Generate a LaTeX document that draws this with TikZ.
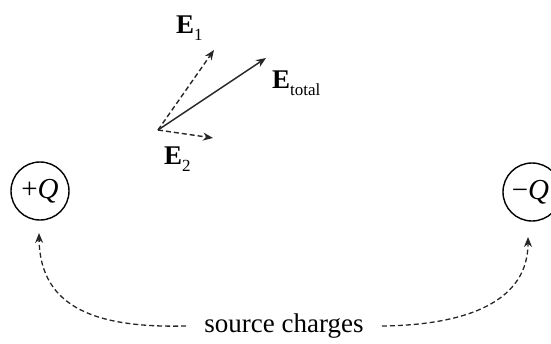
\documentclass[tikz,border=0pt]{standalone}
\usepackage{fontspec}
\setmainfont{Liberation Serif}
\usetikzlibrary{arrows.meta}
\newcommand{\vsub}[1]{\raisebox{-7pt}{\fontsize{17}{17}\selectfont #1}}
\tikzset{
  vec/.style={line width=1.4pt,-{Stealth[length=10pt,width=8pt]},black!85},
  dvec/.style={vec,dash pattern=on 5pt off 3pt},
  curv/.style={line width=1.3pt,black!85,dash pattern=on 5pt off 3pt,-{Stealth[length=10pt,width=8pt]}},
  lab/.style={font=\fontsize{27}{27}\selectfont,inner sep=0pt,anchor=base west},
  charge/.style={circle,draw,line width=1.4pt,minimum size=58pt,inner sep=0pt,font=\fontsize{29}{29}\selectfont}
}
\begin{document}
\begin{tikzpicture}[x=1pt,y=-1pt]
\useasboundingbox (0,0) rectangle (551,343);
\coordinate (O) at (158,130);
\coordinate (t1) at (214,50);
\coordinate (tt) at (266,58);
\coordinate (t2) at (213,138);
\draw[dvec] (O) -- (t1);
\draw[vec] (O) -- (tt);
\draw[dvec] (O) -- (t2);
\node[lab] (E1) at (176,33) {\textbf{E}\vsub{1}};
\node[lab] (Et) at (272,88) {\textbf{E}\vsub{total}};
\node[lab] (E2) at (164,164) {\textbf{E}\vsub{2}};
\node[charge] (pq) at (40,191) {+\textit{Q}};
\node[charge] (mq) at (532,192) {\kern-3pt−\textit{Q}};
\node[inner xsep=18pt,inner ysep=0pt,font=\fontsize{27}{27}\selectfont] (src) at (284,326) {source charges};
\coordinate (ptip) at (39,233);
\coordinate (mtip) at (528,237);
\draw[curv] (src.west) .. controls (100,328) and (40,310) .. (ptip);
\draw[curv] (src.east) .. controls (470,325) and (528,300) .. (mtip);
\end{tikzpicture}
\end{document}
